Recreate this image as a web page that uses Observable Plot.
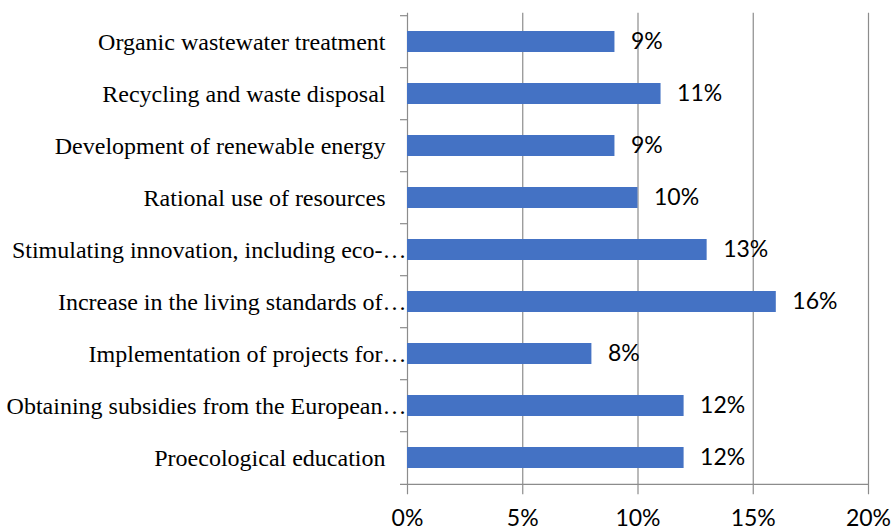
<!DOCTYPE html>
<html>
<head>
<meta charset="utf-8">
<script src="https://cdn.jsdelivr.net/npm/d3@7"></script>
<script src="https://cdn.jsdelivr.net/npm/@observablehq/plot@0.6"></script>
<style>
  html, body { margin: 0; padding: 0; background: #fff; }
</style>
</head>
<body>
<div id="chart"></div>
<script>
const categories = [
  "Organic wastewater treatment",
  "Recycling and waste disposal",
  "Development of renewable energy",
  "Rational use of resources",
  "Stimulating innovation, including eco-…",
  "Increase in the living standards of…",
  "Implementation of projects for…",
  "Obtaining subsidies from the European…",
  "Proecological education"
];
const values = [9, 11, 9, 10, 13, 16, 8, 12, 12];
const xTicks = [0, 5, 10, 15, 20];

const data = categories.map((c, i) => ({category: c, value: values[i], truncated: c.endsWith("…")}));

const W = 895, H = 530;
const mT = 12.7, mB = 43.7, mL = 407, mR = 27;
const step = (H - mT - mB) / categories.length;
const gray = "#8c8c8c";

const chart = Plot.plot({
  width: W,
  height: H,
  marginTop: mT,
  marginBottom: mB,
  marginLeft: mL,
  marginRight: mR,
  style: {fontFamily: "Lato, sans-serif", fontSize: "22px", background: "white", color: "black", overflow: "visible"},
  x: {domain: [0, 20], axis: null},
  y: {domain: categories, paddingInner: 0.6, paddingOuter: 0.3, axis: null},
  marks: [
    Plot.ruleX(xTicks, {x: d => d, stroke: gray, strokeWidth: 1.2, insetBottom: -8}),
    Plot.ruleY(categories, {y: d => d, dy: -step / 2, x1: 0, x2: 0, insetLeft: -7, stroke: gray, strokeWidth: 1.2}),
    Plot.ruleY(categories.slice(-1), {y: d => d, dy: step / 2, x1: 0, x2: 20, insetLeft: -7, stroke: gray, strokeWidth: 1.2}),
    Plot.barX(data, {x: "value", y: "category", fill: "#4472C4"}),
    Plot.text(data, {x: "value", y: "category", text: d => d.value + "%", textAnchor: "start", dx: 16, dy: 0, fontSize: 23, fill: "#000"}),
    Plot.text(data.filter(d => !d.truncated), {x: 0, y: "category", text: "category", textAnchor: "end", dx: -22, fontFamily: "Liberation Serif, serif", fontSize: 24, fill: "#000"}),
    Plot.text(data.filter(d => d.truncated), {x: 0, y: "category", text: "category", textAnchor: "end", dx: -1, fontFamily: "Liberation Serif, serif", fontSize: 24, fill: "#000"}),
    Plot.text(xTicks, {x: d => d, frameAnchor: "bottom", dy: 39, text: d => d + "%", fontSize: 23, fill: "#000"})
  ]
});
document.getElementById("chart").appendChild(chart);
</script>
</body>
</html>
